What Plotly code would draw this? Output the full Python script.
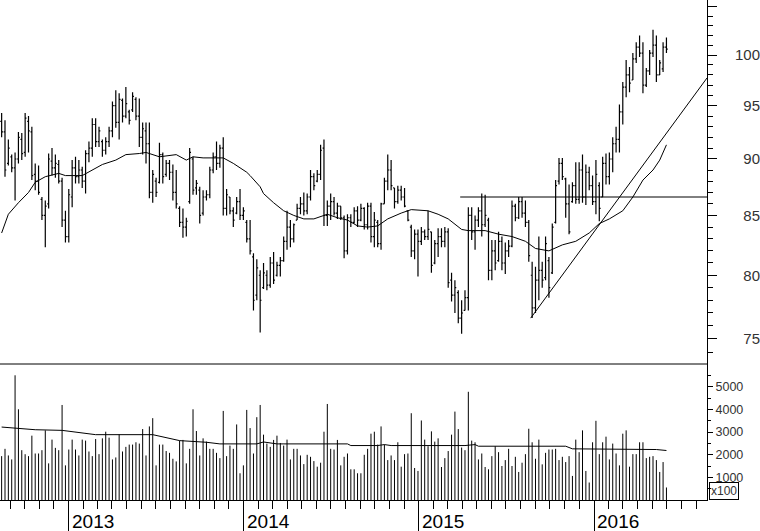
import plotly.graph_objects as go
import pandas as pd

# ---------------- data ----------------
start_date = "2012-08-14"
n_weeks = 199

high = [94.3, 93.6, 91.8, 90.4, 90.6, 92.5, 92.4, 94.3, 94.0, 93.0,
        89.6, 89.4, 86.6, 86.3, 90.5, 91.0, 90.4, 89.9, 88.3, 85.4,
        87.3, 89.9, 90.2, 89.9, 89.3, 90.8, 91.6, 93.8, 93.8, 93.0,
        91.8, 92.0, 93.0, 95.4, 96.5, 96.2, 95.7, 96.8, 94.6, 96.3,
        95.8, 95.7, 93.4, 93.4, 93.4, 89.0, 88.3, 91.5, 90.6, 89.9,
        89.9, 89.5, 89.0, 85.8, 85.6, 84.8, 91.0, 90.2, 88.1, 87.5,
        87.2, 87.2, 89.3, 90.6, 91.6, 91.3, 92.0, 87.3, 86.6, 85.7,
        86.6, 87.3, 85.7, 84.6, 84.6, 81.8, 81.3, 80.4, 81.0, 80.4,
        81.5, 81.9, 81.1, 81.5, 83.2, 85.4, 84.6, 84.3, 86.0, 86.6,
        87.0, 86.9, 89.0, 88.7, 89.0, 91.3, 91.8, 86.3, 86.9, 86.6,
        86.1, 85.8, 85.0, 85.1, 85.1, 85.7, 85.8, 86.0, 85.7, 86.1,
        86.1, 85.3, 84.6, 86.1, 88.3, 90.4, 89.9, 87.4, 87.6, 87.6,
        87.4, 85.4, 84.2, 83.8, 83.8, 84.0, 83.8, 85.4, 83.6, 82.9,
        83.9, 83.9, 84.0, 83.9, 80.2, 79.6, 78.8, 78.0, 78.8, 85.7,
        85.7, 85.0, 85.7, 86.9, 86.8, 84.8, 82.9, 82.9, 83.6, 83.2,
        82.7, 82.9, 86.3, 86.0, 86.6, 86.6, 86.3, 84.6, 81.1, 80.7,
        83.2, 81.1, 83.2, 81.5, 84.3, 88.1, 90.1, 90.1, 88.3, 87.7,
        87.9, 89.7, 89.7, 90.4, 89.5, 89.3, 88.5, 89.9, 87.9, 90.2,
        90.5, 90.6, 92.0, 93.0, 95.1, 97.3, 99.5, 98.8, 100.2, 101.3,
        102.0, 101.3, 98.7, 100.5, 102.6, 102.0, 99.5, 101.3, 101.8]

low = [92.0, 88.4, 89.4, 88.8, 86.3, 89.6, 89.9, 90.2, 90.6, 88.1,
       87.2, 86.8, 84.6, 82.3, 85.6, 88.5, 88.3, 87.8, 84.0, 82.7,
       82.7, 85.7, 87.8, 87.8, 87.4, 86.9, 89.7, 90.2, 91.1, 91.1,
       90.2, 90.4, 91.1, 92.0, 92.9, 91.8, 93.4, 93.8, 93.2, 94.4,
       93.6, 91.1, 90.4, 89.6, 86.5, 86.1, 86.6, 87.8, 87.8, 88.4,
       88.1, 86.3, 85.6, 84.0, 83.1, 83.2, 86.0, 86.8, 86.8, 84.3,
       85.0, 86.3, 86.5, 88.7, 89.0, 89.2, 85.0, 85.0, 85.1, 84.0,
       85.1, 84.6, 84.6, 82.7, 81.7, 77.2, 78.0, 75.5, 78.9, 78.8,
       79.0, 79.3, 79.9, 79.9, 81.1, 82.1, 82.3, 82.7, 84.6, 85.1,
       85.0, 85.1, 86.3, 87.2, 87.9, 88.1, 84.1, 84.1, 84.6, 85.0,
       84.7, 84.6, 81.4, 81.7, 84.0, 84.3, 84.0, 84.5, 83.8, 83.8,
       82.7, 82.3, 82.3, 82.1, 86.0, 87.2, 87.2, 85.6, 86.0, 86.3,
       85.7, 84.5, 81.5, 81.3, 79.9, 82.5, 82.9, 82.9, 80.2, 80.9,
       81.5, 82.3, 82.3, 79.0, 77.9, 77.0, 76.2, 75.4, 77.2, 77.2,
       82.9, 82.1, 84.0, 83.2, 84.0, 79.6, 79.6, 80.4, 81.1, 80.4,
       80.1, 81.5, 82.3, 84.5, 84.7, 84.8, 84.0, 81.1, 76.6, 77.0,
       78.0, 79.0, 79.6, 78.2, 80.1, 84.3, 87.7, 88.1, 84.8, 83.4,
       86.1, 86.0, 86.0, 86.1, 85.9, 87.2, 85.9, 85.1, 84.5, 86.6,
       87.7, 87.7, 88.8, 90.6, 90.6, 93.2, 95.8, 96.3, 97.5, 99.2,
       99.8, 96.2, 96.8, 98.0, 99.8, 97.3, 98.0, 98.3, 100.2]

open_ = [93.5, 92.5, 89.6, 90.2, 89.2, 90.0, 91.8, 90.6, 93.5, 92.5,
         88.6, 88.0, 86.4, 85.0, 86.0, 89.8, 89.2, 89.5, 88.0, 84.6,
         83.2, 86.6, 89.2, 88.4, 89.0, 88.0, 90.5, 91.0, 93.2, 91.6,
         91.6, 90.8, 91.6, 92.6, 95.0, 93.4, 95.5, 94.0, 94.4, 94.6,
         95.6, 94.0, 92.0, 92.6, 91.4, 87.0, 88.0, 87.9, 90.4, 88.6,
         89.6, 88.8, 87.0, 85.6, 84.4, 84.0, 86.2, 90.0, 87.4, 87.2,
         85.2, 86.6, 86.8, 89.0, 90.2, 89.6, 91.0, 85.6, 86.6, 85.4,
         85.2, 86.2, 85.0, 84.4, 83.0, 81.5, 78.4, 80.0, 79.0, 80.0,
         79.2, 81.0, 80.0, 80.8, 81.2, 82.8, 84.0, 83.0, 84.6, 85.6,
         86.0, 85.4, 86.6, 88.4, 88.0, 88.6, 91.0, 85.0, 85.8, 86.2,
         85.2, 85.8, 84.8, 82.0, 84.8, 84.4, 85.4, 84.6, 85.6, 84.2,
         85.8, 83.2, 84.4, 82.6, 86.0, 88.0, 89.0, 87.4, 86.2, 87.2,
         86.6, 85.4, 84.0, 82.0, 83.4, 82.8, 83.6, 83.2, 83.6, 81.0,
         82.6, 83.2, 82.8, 83.6, 79.6, 78.4, 78.6, 76.6, 77.2, 78.2,
         85.0, 83.6, 84.6, 85.4, 84.2, 84.6, 80.4, 82.0, 81.2, 82.8,
         81.0, 82.0, 82.4, 85.8, 84.8, 86.2, 85.2, 84.4, 80.0, 77.4,
         79.6, 80.4, 79.8, 81.2, 80.2, 84.4, 88.0, 89.6, 88.2, 86.0,
         86.2, 87.6, 86.4, 89.0, 86.6, 88.8, 87.6, 86.2, 87.6, 86.6,
         89.6, 88.4, 90.0, 91.4, 91.8, 94.4, 96.8, 98.0, 97.5, 99.6,
         100.8, 100.2, 97.0, 98.4, 100.2, 101.0, 98.0, 98.6, 100.8]

close = [92.5, 89.0, 91.0, 89.2, 90.0, 92.0, 90.5, 93.8, 92.6, 88.5,
         88.0, 87.0, 85.0, 85.8, 90.0, 89.2, 89.6, 88.0, 84.6, 83.2,
         86.8, 89.2, 88.4, 89.0, 88.0, 90.5, 91.0, 93.2, 91.6, 92.6,
         90.8, 91.6, 92.6, 95.0, 93.4, 95.6, 94.0, 95.2, 93.6, 95.9,
         94.0, 92.0, 92.8, 91.4, 87.0, 88.6, 87.0, 90.4, 88.4, 89.6,
         88.8, 87.0, 86.0, 84.4, 84.0, 84.5, 90.6, 87.2, 87.8, 85.0,
         86.6, 86.8, 89.0, 90.2, 89.6, 91.0, 85.6, 86.8, 85.4, 84.6,
         86.2, 85.0, 85.4, 83.0, 82.0, 78.0, 80.6, 78.0, 80.2, 79.2,
         81.0, 79.6, 80.8, 81.2, 82.8, 84.0, 83.0, 84.2, 85.6, 86.0,
         85.4, 86.6, 88.4, 87.6, 88.6, 90.8, 85.0, 85.8, 86.2, 85.2,
         85.8, 84.8, 82.0, 84.8, 84.4, 85.4, 84.6, 85.6, 84.2, 85.8,
         83.2, 84.6, 82.6, 86.0, 88.0, 89.0, 87.6, 86.2, 87.2, 86.6,
         85.8, 84.6, 82.0, 83.4, 82.8, 83.6, 83.2, 83.8, 80.8, 82.6,
         83.2, 82.8, 83.6, 79.4, 78.4, 79.0, 76.6, 77.0, 78.2, 85.0,
         83.6, 84.6, 85.4, 84.2, 85.0, 80.4, 82.0, 81.0, 82.8, 81.0,
         82.0, 82.4, 85.8, 84.8, 86.2, 85.2, 84.4, 81.6, 77.4, 79.6,
         80.4, 79.6, 82.6, 79.0, 84.0, 87.6, 89.6, 88.4, 86.0, 83.6,
         87.6, 86.4, 89.0, 86.6, 88.8, 87.6, 86.2, 88.6, 85.6, 89.6,
         88.4, 90.0, 91.4, 91.8, 94.4, 96.8, 98.0, 97.2, 99.6, 100.8,
         100.2, 97.0, 98.4, 100.2, 101.0, 98.0, 99.2, 100.8, 100.6]

# weekly volume (axis units, x100)
volume = [1935, 2257, 1965, 1790, 5502, 4003, 2198, 2020, 1935, 2838,
          2052, 2052, 2198, 3072, 1616, 2664, 2300, 2198, 4192, 1528,
          2227, 2664, 2227, 1965, 2664, 2620, 2140, 1935, 2690, 2023,
          2720, 3013, 2750, 1790, 1877, 2896, 2140, 2344, 2445, 2445,
          2547, 2489, 3130, 1965, 3246, 3610, 1528, 2445, 2445, 2160,
          2080, 1820, 1703, 2620, 2650, 1616, 2257, 4003, 3043, 1965,
          2720, 2576, 2257, 2257, 2080, 1848, 3930, 1935, 2400, 2257,
          3333, 1179, 1528, 3974, 3173, 2052, 3654, 4192, 2882, 2489,
          2344, 2650, 2838, 2516, 2400, 2664, 1790, 2257, 2257, 1965,
          1584, 1994, 1906, 1717, 1470, 1645, 3013, 4236, 2257, 2227,
          2650, 1528, 1906, 2052, 1354, 1354, 1179, 1179, 1994, 2257,
          2926, 3013, 2445,
          3246, 2445, 1761, 1965, 1761, 2547, 1470, 2023, 2052, 3828,
          1412, 1281, 3508, 2664, 2373, 3028, 2576, 2720, 1456, 1848,
          2160, 2882, 3900, 3130, 2314, 2198, 4774, 2620, 2547, 1790,
          2052, 1456, 1354, 1935, 2373, 2110, 1500, 1761, 2257, 1500,
          1906, 1237, 1645, 2023, 3144, 2547, 1820, 2664, 1572, 2080,
          2227, 2227, 2257, 1761, 1906, 1674, 1935, 1062, 2664, 2110,
          3072, 1281, 771, 2547, 3494, 2023, 2547, 2794, 1790, 2489,
          2052, 1528, 2926, 3072, 1470, 2023, 2023, 2547, 2547, 1848,
          1906, 1935, 1761, 1237, 1674, 553]

# moving average of price, read at selected weeks
ma_week = [0, 2, 5, 8, 10, 13, 17, 19, 24, 27, 30, 34, 37, 41, 43, 47, 52, 55,
           57, 60, 66, 69, 73, 74, 77, 78, 81, 84, 87, 90, 93, 97, 100, 103,
           106, 109, 112, 115, 119, 122, 127, 130, 133, 137, 139, 144, 148,
           152, 156, 159, 163, 167, 171, 175, 178, 181, 185, 188, 191, 194,
           196, 198]
ma_price = [83.5, 85.1, 86.1, 87.0, 87.9, 88.4, 88.7, 88.5, 88.5, 89.0, 89.5,
            89.9, 90.4, 90.5, 90.6, 90.2, 90.4, 89.9, 90.2, 90.1, 90.1, 89.6,
            88.8, 88.5, 87.5, 86.9, 86.1, 85.4, 85.0, 84.7, 84.7, 85.1, 84.8,
            84.6, 84.1, 84.0, 84.1, 84.7, 85.2, 85.5, 85.4, 85.1, 84.7, 83.8,
            83.7, 83.7, 83.4, 83.2, 82.8, 82.2, 82.0, 82.5, 82.8, 83.5, 84.3,
            84.7, 85.4, 86.6, 88.1, 89.0, 89.9, 91.3]

# moving average of volume, read at selected weeks
vma_week = [0, 10, 18, 28, 45, 53, 61, 65, 76, 78, 82, 103, 104, 112, 114,
            116, 138, 141, 142, 168, 170, 176, 177, 195, 198]
vma_vals = [3218, 3100, 3072, 2882, 2882, 2620, 2547, 2475, 2475, 2560, 2475,
            2475, 2402, 2402, 2445, 2402, 2402, 2445, 2373, 2373, 2257, 2257,
            2227, 2227, 2184]

# drawn lines
x_range = ["2012-08-10 14:00", "2016-08-23 13:30"]
level_dates = ["2015-03-28", "2016-08-23 13:30"]
level_prices = [86.6, 86.6]
trend_dates = ["2015-08-22", "2016-08-23 13:30"]
trend_prices = [76.6, 97.7]

price_ticks = [75, 80, 85, 90, 95, 100, 105]
price_labels = ["\u200775", "\u200780", "\u200785", "\u200790", "\u200795", "100", ""]
vol_ticks = [1000, 2000, 3000, 4000, 5000]
vol_labels = ["1000", "2000", "3000", "4000", "5000"]
year_labels = ["2013", "2014", "2015", "2016"]
year_dates = ["2013-01-01", "2014-01-01", "2015-01-01", "2016-01-01"]

# ---------------- figure ----------------
dates = pd.date_range(start_date, periods=n_weeks, freq="7D")
ma_dates = [dates[i] for i in ma_week]
vma_dates = [dates[i] for i in vma_week]

# volume drawn as thin vertical sticks from zero
vol_x, vol_y = [], []
for d, v in zip(dates, volume):
    vol_x += [d, d, None]
    vol_y += [0, v, None]

fig = go.Figure()

fig.add_trace(go.Ohlc(
    x=dates, open=open_, high=high, low=low, close=close,
    increasing=dict(line=dict(color="black", width=1.2)),
    decreasing=dict(line=dict(color="black", width=1.2)),
    tickwidth=0.4, hoverinfo="skip", showlegend=False,
    xaxis="x", yaxis="y"))

line_style = dict(color="black", width=1)
fig.add_trace(go.Scatter(x=ma_dates, y=ma_price, mode="lines", line=line_style,
                         hoverinfo="skip", showlegend=False, yaxis="y"))
fig.add_trace(go.Scatter(x=level_dates, y=level_prices, mode="lines",
                         line=line_style, hoverinfo="skip", showlegend=False,
                         yaxis="y"))
fig.add_trace(go.Scatter(x=trend_dates, y=trend_prices, mode="lines",
                         line=line_style, hoverinfo="skip", showlegend=False,
                         yaxis="y"))

fig.add_trace(go.Scatter(x=vol_x, y=vol_y, mode="lines",
                         line=dict(color="black", width=1),
                         hoverinfo="skip", showlegend=False, yaxis="y2"))
fig.add_trace(go.Scatter(x=vma_dates, y=vma_vals, mode="lines", line=line_style,
                         hoverinfo="skip", showlegend=False, yaxis="y2"))

font_family = "Liberation Sans, Arial, sans-serif"

fig.update_layout(
    width=760, height=531,
    margin=dict(l=0, r=51, t=0, b=31),
    paper_bgcolor="white", plot_bgcolor="white",
    showlegend=False,
    xaxis=dict(
        type="date", range=x_range, anchor="y2",
        rangeslider=dict(visible=False),
        showgrid=False, zeroline=False,
        showline=True, linecolor="black", linewidth=1,
        tickmode="array", tickvals=year_dates, showticklabels=False,
        ticks="outside", ticklen=30, tickcolor="black", tickwidth=1,
        minor=dict(dtick="M1", tick0="2013-01-01", ticks="outside",
                   ticklen=8, tickcolor="black", tickwidth=1, showgrid=False),
    ),
    yaxis=dict(
        type="log", domain=[0.272, 1.0], anchor="x", side="right",
        range=[1.86404, 2.02420],
        showgrid=False, zeroline=False,
        showline=True, linecolor="black", linewidth=1,
        tickmode="array", tickvals=price_ticks, ticktext=price_labels,
        ticks="outside", ticklen=9, tickcolor="black", tickwidth=1,
        ticklabelstandoff=15,
        tickfont=dict(family=font_family, size=15, color="#333"),
        minor=dict(tickvals=[v for v in range(74, 106) if v % 5 != 0],
                   ticks="outside", ticklen=5, tickcolor="black",
                   tickwidth=1, showgrid=False),
    ),
    yaxis2=dict(
        domain=[0.0, 0.272], anchor="x", side="right",
        range=[0, 6000],
        showgrid=False, zeroline=False,
        showline=True, linecolor="black", linewidth=1,
        tickmode="array", tickvals=vol_ticks, ticktext=vol_labels,
        ticks="outside", ticklen=5, tickcolor="black", tickwidth=1,
        tickfont=dict(family=font_family, size=12.5, color="#333"),
        minor=dict(tickvals=[500, 1500, 2500, 3500, 4500, 5500],
                   ticks="outside", ticklen=3, tickcolor="black",
                   tickwidth=1, showgrid=False),
    ),
    shapes=[dict(type="line", xref="paper", yref="paper",
                 x0=0, x1=1, y0=0.272, y1=0.272,
                 line=dict(color="black", width=1))],
)

for lbl, d in zip(year_labels, year_dates):
    fig.add_annotation(x=d, xref="x", y=-0.018, yref="paper",
                       text=lbl, showarrow=False, xanchor="left",
                       yanchor="top", xshift=1,
                       font=dict(family=font_family, size=19, color="black"))

fig.add_annotation(x=1.0, xref="paper", y=0.0, yref="paper",
                   text="x100", showarrow=False, xanchor="left",
                   yanchor="bottom", xshift=2,
                   bordercolor="black", borderwidth=1, borderpad=1,
                   font=dict(family=font_family, size=12, color="#333"))

fig.write_html("out.html",
               config={"displayModeBar": False, "staticPlot": True},
               post_script="document.body.style.margin='0';"
                           "document.body.style.overflow='hidden';")
